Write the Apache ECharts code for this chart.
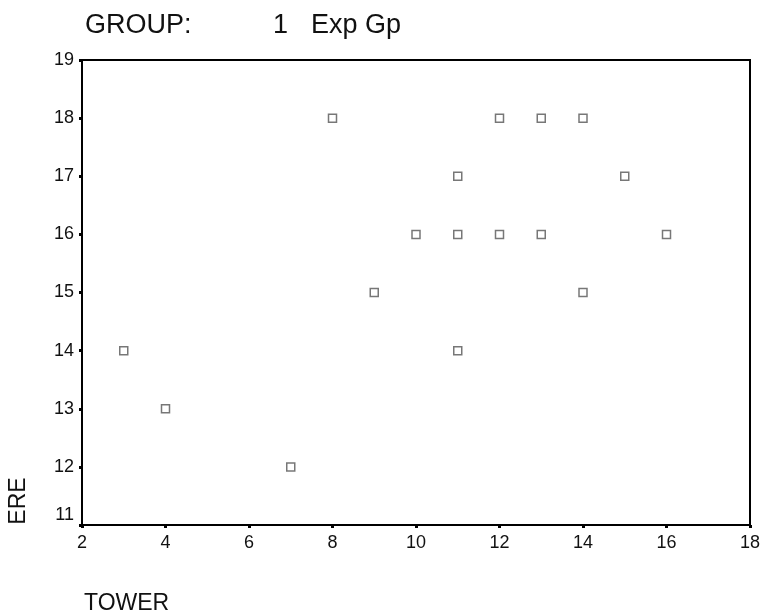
<!DOCTYPE html>
<html>
<head>
<meta charset="utf-8">
<script src="https://cdn.jsdelivr.net/npm/echarts@6/dist/echarts.min.js"></script>
<style>html,body{margin:0;padding:0;background:#fff;}#c{width:764px;height:616px;}</style>
</head>
<body>
<div id="c"></div>
<script>
var towerValues = [3, 4, 7, 8, 9, 10, 11, 11, 11, 12, 12, 13, 13, 14, 14, 15, 16];
var ereValues   = [14, 13, 12, 18, 15, 16, 17, 16, 14, 18, 16, 18, 16, 18, 15, 17, 16];
var xTicks = [2, 4, 6, 8, 10, 12, 14, 16, 18];
var yTicks = [11, 12, 13, 14, 15, 16, 17, 18, 19];
var titleParts = ['GROUP:', '1', 'Exp Gp'];
var xName = 'TOWER';
var yName = 'ERE';

var points = towerValues.map(function (x, i) { return [x, ereValues[i]]; });
var font = 'Liberation Sans, Arial, Helvetica, sans-serif';

var chart = echarts.init(document.getElementById('c'), null, {renderer: 'canvas'});
chart.setOption({
  animation: false,
  backgroundColor: '#fff',
  grid: {left: 82, right: 14, top: 60, bottom: 91, show: true, borderColor: '#000', borderWidth: 2},
  xAxis: {
    type: 'value', min: xTicks[0], max: xTicks[xTicks.length - 1], interval: 2,
    axisLine: {show: true, lineStyle: {color: '#000', width: 2}},
    axisTick: {show: true, length: 3, inside: false, lineStyle: {color: '#000', width: 3}},
    axisLabel: {color: '#111', fontSize: 18, fontFamily: font, margin: 9},
    splitLine: {show: false}
  },
  yAxis: {
    type: 'value', min: yTicks[0], max: yTicks[yTicks.length - 1], interval: 1,
    axisLine: {show: true, lineStyle: {color: '#000', width: 2}},
    axisTick: {show: true, length: 3, inside: false, lineStyle: {color: '#000', width: 3}},
    axisLabel: {
      color: '#111', fontSize: 18, fontFamily: font, margin: 8,
      formatter: function (v) { return v === yTicks[0] ? '{lo|' + v + '}' : String(v); },
      rich: {lo: {fontSize: 18, fontFamily: font, color: '#111', padding: [0, 0, 20, 0]}}
    },
    splitLine: {show: false}
  },
  graphic: [
    {type: 'text', left: 85, top: 12, style: {text: titleParts[0], fontSize: 27, fontFamily: font, fill: '#111'}},
    {type: 'text', left: 273, top: 12, style: {text: titleParts[1], fontSize: 27, fontFamily: font, fill: '#111'}},
    {type: 'text', left: 311, top: 12, style: {text: titleParts[2], fontSize: 27, fontFamily: font, fill: '#111'}},
    {type: 'text', left: 84, top: 592, style: {text: xName, fontSize: 23, fontFamily: font, fill: '#111'}},
    {type: 'text', x: 19, y: 501, rotation: Math.PI / 2, style: {text: yName, fontSize: 23, fontFamily: font, fill: '#111', align: 'center', verticalAlign: 'middle'}}
  ],
  series: [{
    type: 'scatter',
    data: points,
    symbol: 'rect',
    symbolSize: 8,
    itemStyle: {color: '#fff', borderColor: '#555', borderWidth: 1.5}
  }]
});
</script>
</body>
</html>
